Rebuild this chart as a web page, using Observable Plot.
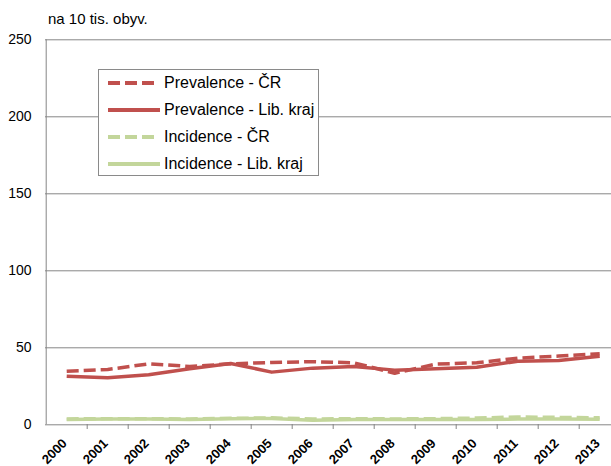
<!DOCTYPE html>
<html>
<head>
<meta charset="utf-8">
<script src="https://cdn.jsdelivr.net/npm/d3@7"></script>
<script src="https://cdn.jsdelivr.net/npm/@observablehq/plot@0.6"></script>
<style>
  html, body { margin: 0; padding: 0; background: #fff; overflow: hidden; }
  #wrap { position: relative; width: 611px; height: 466px; font-family: "Liberation Sans", Arial, sans-serif; }
  #unit { position: absolute; left: 48px; top: 10px; font-size: 15px; color: #000; white-space: nowrap; }
  #legend { position: absolute; left: 98px; top: 69px; width: 221px; height: 107px; background: #fff; border: 1px solid #8a8a8a; box-sizing: border-box; }
  .row { position: absolute; left: 0; height: 20px; display: flex; align-items: center; font-size: 16px; color: #000; white-space: nowrap; }
  .row svg { margin-left: 9px; margin-right: 4px; }
</style>
</head>
<body>
<div id="wrap">
  <div id="chart"></div>
  <div id="unit">na 10 tis. obyv.</div>
  <div id="legend"></div>
</div>
<script>
const years = [2000, 2001, 2002, 2003, 2004, 2005, 2006, 2007, 2008, 2009, 2010, 2011, 2012, 2013];
const prevalenceCR = [34.8, 35.9, 39.6, 37.9, 39.6, 40.5, 41.0, 40.3, 33.5, 39.4, 40.3, 43.3, 44.6, 46.1];
const prevalenceLK = [31.6, 30.5, 32.5, 36.4, 39.8, 34.2, 36.8, 37.9, 35.5, 36.4, 37.4, 41.3, 41.8, 44.5];
const incidenceCR = [3.8, 4.0, 4.0, 3.8, 4.2, 4.5, 3.8, 4.0, 3.8, 4.0, 4.4, 5.1, 4.8, 4.6];
const incidenceLK = [3.4, 3.7, 3.7, 3.5, 3.9, 4.1, 3.0, 3.4, 3.5, 3.4, 3.5, 3.7, 3.7, 3.6];
const yTicks = [0, 50, 100, 150, 200, 250];
const seriesNames = ["Prevalence - ČR", "Prevalence - Lib. kraj", "Incidence - ČR", "Incidence - Lib. kraj"];
const seriesColors = ["#c0504d", "#c0504d", "#c3d69b", "#c3d69b"];
const seriesDashed = [true, false, true, false];
const seriesValues = [prevalenceCR, prevalenceLK, incidenceCR, incidenceLK];

const DASH = "12,5";
const rows = [];
seriesNames.forEach((name, i) => {
  years.forEach((yr, j) => rows.push({series: name, year: yr, value: seriesValues[i][j], idx: i}));
});

const boundaries = years.slice(0, -1).map(y => y + 0.5);

const lineMarks = seriesNames.map((name, i) =>
  Plot.line(rows.filter(r => r.idx === i), {
    x: "year", y: "value",
    stroke: seriesColors[i], strokeWidth: 3.5,
    strokeDasharray: seriesDashed[i] ? DASH : null,
    strokeLinejoin: "round", strokeLinecap: "butt"
  })
);

const chart = Plot.plot({
  width: 611,
  height: 466,
  marginLeft: 45,
  marginRight: 0,
  marginTop: 39,
  marginBottom: 42,
  style: {fontFamily: "'Liberation Sans', Arial, sans-serif", background: "transparent", overflow: "hidden"},
  x: {type: "linear", domain: [years[0] - 0.5, years[years.length - 1] + 0.5], range: [45.7, 619.7]},
  y: {domain: [0, 250], range: [424.3, 39.3]},
  marks: [
    Plot.ruleY(yTicks.slice(1), {stroke: "#868686", strokeWidth: 1}),
    Plot.ruleX([years[0] - 0.5], {y1: 0, y2: 250, stroke: "#868686", strokeWidth: 1}),
    Plot.ruleY([0], {stroke: "#868686", strokeWidth: 1}),
    Plot.axisY({ticks: yTicks, tickSize: 0, tickPadding: 14, fontSize: 14, label: null, color: "#000"}),
    Plot.axisX({ticks: boundaries, tickSize: 5, tickFormat: () => "", stroke: "#868686", label: null}),
    Plot.text(years, {x: d => d, y: 0, text: d => String(d), rotate: -45, textAnchor: "end",
      dy: 16.5, dx: -2, fontSize: 13, fontWeight: "bold", fill: "#000"}),
    ...lineMarks
  ]
});
document.getElementById("chart").appendChild(chart);

// legend
const legend = document.getElementById("legend");
const rowTops = [3, 30, 57, 84];
seriesNames.forEach((name, i) => {
  const row = document.createElement("div");
  row.className = "row";
  row.style.top = (rowTops[i]) + "px";
  const svgNS = "http://www.w3.org/2000/svg";
  const s = document.createElementNS(svgNS, "svg");
  s.setAttribute("width", seriesDashed[i] ? 48 : 52);
  s.setAttribute("height", 10);
  s.style.marginRight = seriesDashed[i] ? "8px" : "4px";
  const l = document.createElementNS(svgNS, "line");
  l.setAttribute("x1", 0); l.setAttribute("x2", seriesDashed[i] ? 48 : 52);
  l.setAttribute("y1", 5); l.setAttribute("y2", 5);
  l.setAttribute("stroke", seriesColors[i]);
  l.setAttribute("stroke-width", 4);
  if (seriesDashed[i]) l.setAttribute("stroke-dasharray", DASH);
  s.appendChild(l);
  row.appendChild(s);
  const t = document.createElement("span");
  t.textContent = name;
  row.appendChild(t);
  legend.appendChild(row);
});
</script>
</body>
</html>
